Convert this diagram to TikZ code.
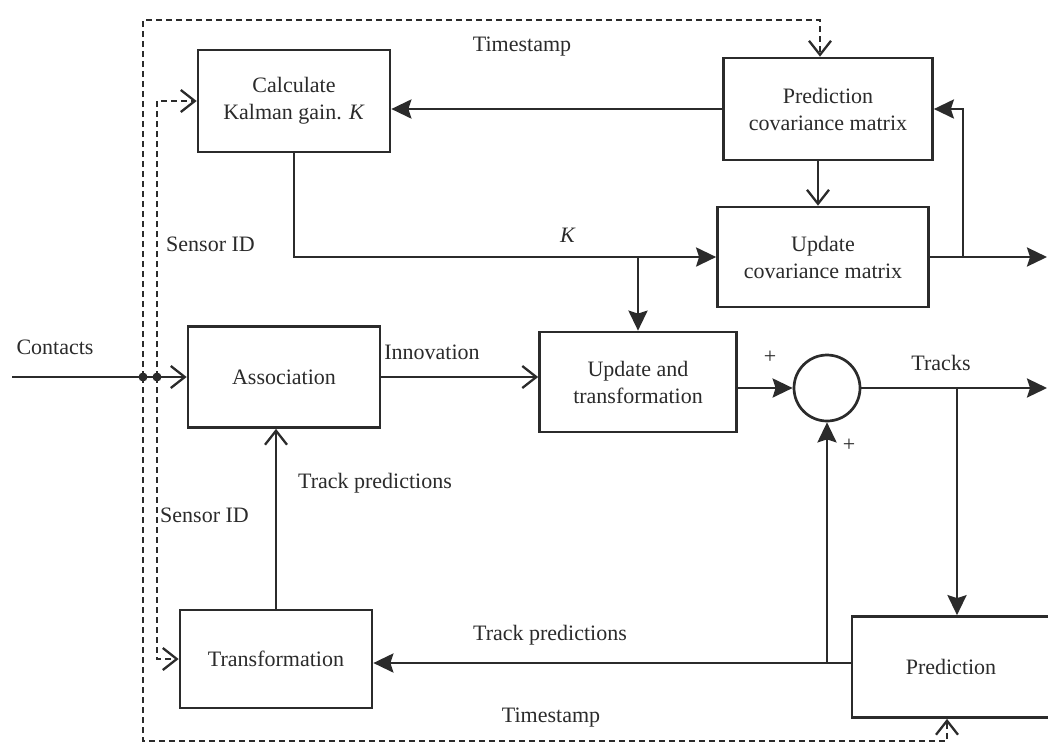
\documentclass[tikz,border=0pt]{standalone}
\usepackage{fontspec}
\setmainfont{Liberation Serif}
\usetikzlibrary{arrows.meta,calc}
\definecolor{ink}{HTML}{2B2B2B}
\begin{document}
\begin{tikzpicture}[x=1pt,y=-1pt,
  txt/.style={font=\fontsize{22}{27}\selectfont, text=ink},
  blockbox/.style={txt, draw=ink, line width=2.7pt, align=center, inner sep=0pt},
  lbl/.style={txt, inner sep=0pt},
  sign/.style={font=\fontsize{22}{24}\selectfont, text=ink, inner sep=0pt},
  wire/.style={draw=ink, line width=2.7pt},
  dashwire/.style={draw=ink, line width=1.9pt, dash pattern=on 6pt off 4pt},
  opentip/.style={-{Straight Barb[length=14pt,width=22pt,line width=2.3pt]}},
  solidtip/.style={-{Stealth[length=20pt,width=19pt,inset=3pt]}}
]
\fill[white] (0,0) rectangle (1048,748);
\useasboundingbox (0,0) rectangle (1048,748);

% blocks
\node[blockbox, minimum width=192pt, minimum height=102pt] (calc) at (294,101) {Calculate\\Kalman gain. \textit{K}};
\node[blockbox, minimum width=209pt, minimum height=102pt] (pcov) at (828,109) {Prediction\\covariance matrix};
\node[blockbox, minimum width=211pt, minimum height=100pt] (ucov) at (823,257) {Update\\covariance matrix};
\node[blockbox, minimum width=192pt, minimum height=101pt] (assoc) at (284,377) {Association};
\node[blockbox, minimum width=197pt, minimum height=100pt] (utr) at (638,382) {Update and\\transformation};
\node[draw=ink, line width=2.7pt, circle, minimum size=66pt, inner sep=0pt] (sum) at (827,388) {};
\node[blockbox, minimum width=192pt, minimum height=98pt] (trans) at (276,659) {Transformation};
\node[blockbox, minimum width=198pt, minimum height=101pt] (pred) at (951,667) {Prediction};

% free ends and junctions
\coordinate (cin) at (12,377);
\coordinate (dotO) at (143,377);
\coordinate (dotI) at (157,377);
\coordinate (tsT) at (143,20);
\coordinate (tsB) at (143,741);
\coordinate (cout) at (1047,257);
\coordinate (cfb) at (963,257);
\coordinate (tout) at (1047,388);
\coordinate (tb) at (957,388);
\coordinate (tpr) at ([yshift=4pt]pred.west);

% contacts and association
\draw[wire,opentip] (cin) -- (assoc.west);
\draw[wire,opentip] (assoc.east) -- (assoc.east -| utr.west);
\draw[wire,opentip] (trans.north) -- (trans.north |- assoc.south);

% gain and covariance loop
\draw[wire,solidtip] (pcov.west) -- (pcov.west -| calc.east);
\draw[wire,solidtip] (calc.south) |- (ucov.west);
\draw[wire,solidtip] (utr.north |- ucov.west) -- (utr.north);
\draw[wire,opentip] ([xshift=-10pt]pcov.south) -- ([xshift=-10pt]pcov.south |- ucov.north);
\draw[wire,solidtip] (ucov.east) -- (cout);
\draw[wire,solidtip] (cfb) |- (pcov.east);

% state loop
\draw[wire,solidtip] (sum.west -| utr.east) -- (sum.west);
\draw[wire,solidtip] (sum.east) -- (tout);
\draw[wire,solidtip] (tb) -- (tb |- pred.north);
\draw[wire,solidtip] (tpr) -- (tpr -| trans.east);
\draw[wire,solidtip] (sum.south |- tpr) -- (sum.south);

% timestamp and sensor id paths
\draw[dashwire,opentip] (dotO) -- (tsT) -| ([xshift=-8pt]pcov.north);
\draw[dashwire,opentip] (dotO) -- (tsB) -| ([xshift=-4pt]pred.south);
\draw[dashwire,opentip] (dotI) |- (calc.west);
\draw[dashwire,opentip] (dotI) |- (trans.west);
\fill[ink] (dotO) circle (4.5pt);
\fill[ink] (dotI) circle (4.5pt);

% labels
\node[lbl] (lts1) at (522,47) {Timestamp};
\node[lbl] (lts2) at (551,718) {Timestamp};
\node[lbl, anchor=west] (lsid1) at (166,244) {Sensor ID};
\node[lbl, anchor=west] (lsid2) at (160,515) {Sensor ID};
\node[lbl] (lcont) at (55,347) {Contacts};
\node[lbl] (linno) at (432,352) {Innovation};
\node[lbl] (lk) at (568,235) {\textit{K}};
\node[lbl] (ltr) at (941,363) {Tracks};
\node[lbl] (ltp1) at (375,483) {Track predictions};
\node[lbl] (ltp2) at (550,635) {Track predictions};
\node[sign] (lp1) at (770,357) {+};
\node[sign] (lp2) at (849,445) {+};
\end{tikzpicture}
\end{document}
